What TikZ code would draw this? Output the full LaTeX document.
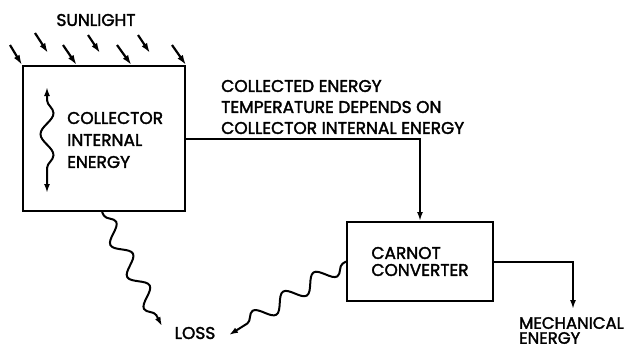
\documentclass[tikz,border=0pt]{standalone}
\usepackage{fontspec}
\setmainfont{Poppins}[FakeBold=2]
\usetikzlibrary{arrows.meta,decorations.pathmorphing,calc}
\tikzset{
  box/.style={draw, line width=2pt, rectangle, inner sep=0pt},
  lbl/.style={inner sep=0pt, align=left, font=\fontsize{17}{21}\selectfont},
  conn/.style={line width=2pt, -{Latex[length=9pt,width=6pt]}},
  sun/.style={line width=2.2pt, -{Latex[length=10pt,width=6.5pt]}},
  wavy/.style={line width=2pt, decorate,
    decoration={snake, segment length=36pt, amplitude=8pt, pre length=4pt, post length=10pt}},
}
\begin{document}
\begin{tikzpicture}[x=1pt,y=-1pt]
\useasboundingbox (0,0) rectangle (632,349);
% boxes
\node[box, minimum width=162pt, minimum height=145pt] (col) at (104,138.5) {};
\node[box, minimum width=146pt, minimum height=79pt, lbl, font=\fontsize{17}{17}\selectfont] (car) at (420,261.5) {CARNOT\\CONVERTER};
% labels
\node[lbl] (sunl) at (96,20) {SUNLIGHT};
\node[lbl, anchor=west, font=\fontsize{17}{22}\selectfont] (coltxt) at (67,140) {COLLECTOR\\INTERNAL\\ENERGY};
\node[lbl, anchor=west] (ctxt) at (221,107) {COLLECTED ENERGY\\TEMPERATURE DEPENDS ON\\COLLECTOR INTERNAL ENERGY};
\node[lbl] (loss) at (195,333) {LOSS};
\node[lbl, anchor=west, font=\fontsize{16.5}{15}\selectfont] (mtxt) at (519,330.5) {MECHANICAL\\ENERGY};
% sunlight arrows
\coordinate (s1) at (10,45);  \coordinate (e1) at (col.north west);
\coordinate (s2) at (35,33);  \coordinate (e2) at (48,53);
\coordinate (s3) at (63,45);  \coordinate (e3) at ($(col.north west)!0.333!(col.north east)$);
\coordinate (s4) at (88,35);  \coordinate (e4) at (100,53);
\coordinate (s5) at (117,45); \coordinate (e5) at ($(col.north west)!0.667!(col.north east)$);
\coordinate (s6) at (138,35); \coordinate (e6) at (150,53);
\coordinate (s7) at (172,45); \coordinate (e7) at (col.north east);
\foreach \i in {1,...,7} {\draw[sun] (s\i) -- (e\i);}
% main flow
\draw[conn] (col.east) -| (car.north);
\coordinate (mech) at (573,309);
\draw[conn] (car.east) -| (mech);
% internal energy wavy double arrow
\coordinate (wt) at (47,87);
\coordinate (wb) at (47,193);
\draw[line width=2pt, {Latex[length=9pt,width=6pt]}-{Latex[length=9pt,width=6pt]}, decorate,
  decoration={snake, segment length=42pt, amplitude=6.5pt, pre length=13pt, post length=24pt}] (wt) -- (wb);
% losses
\coordinate (colb) at ($(col.south west)!0.488!(col.south east)$);
\coordinate (lossA) at (162,326);
\draw[wavy, -{Latex[length=9pt,width=6pt]}] (colb) -- (lossA);
\coordinate (carw) at (car.west);
\coordinate (lossB) at (229,335);
\draw[wavy, -{Latex[length=9pt,width=6pt]}] (carw) -- (lossB);
\end{tikzpicture}
\end{document}
